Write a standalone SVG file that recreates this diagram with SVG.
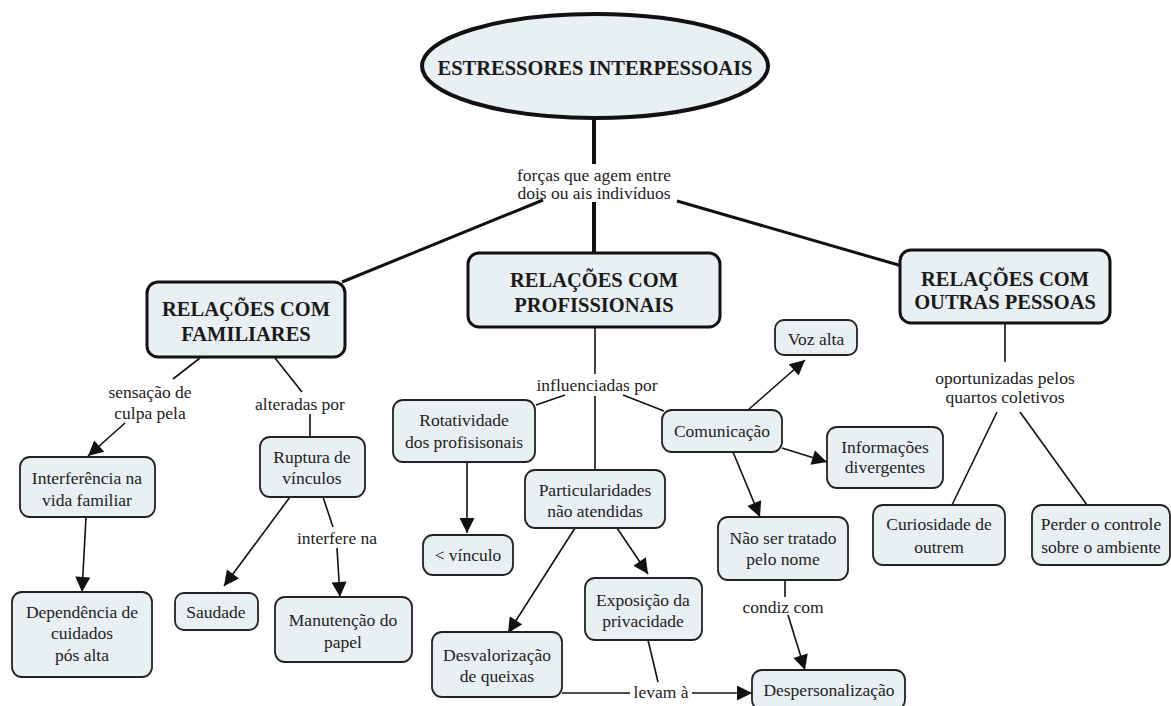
<svg xmlns="http://www.w3.org/2000/svg" width="1171" height="706" viewBox="0 0 1171 706">
  <style>
    .node { fill: #e9f0f3; stroke: #222; stroke-width: 1.8; }
    .head { fill: #e9f0f3; stroke: #111; stroke-width: 3; }
    .t { font-family: "Liberation Serif", "Times New Roman", serif; font-size: 17.5px; fill: #222; text-anchor: middle; dominant-baseline: central; }
    .b { font-family: "Liberation Serif", "Times New Roman", serif; font-size: 20.5px; font-weight: bold; fill: #1a1a1a; text-anchor: middle; dominant-baseline: central; }
    .ln { fill: none; stroke: #111; stroke-width: 1.6; }
    .thick { fill: none; stroke: #111; stroke-width: 4; }
    .mid { fill: none; stroke: #111; stroke-width: 3; }
    .arr { marker-end: url(#ah); }
  </style>
  <defs>
    <marker id="ah" viewBox="0 0 10 10" refX="10" refY="5" markerWidth="16" markerHeight="15" markerUnits="userSpaceOnUse" orient="auto">
      <path d="M0,0 L10,5 L0,10 z" fill="#111"/>
    </marker>
  </defs>

  <rect width="1171" height="706" fill="#fff"/>

  <!-- connectors and link labels -->
  <g id="connectors">
    <!-- root links -->
    <line class="thick" x1="594" y1="118" x2="594" y2="164"/>
    <line class="thick" x1="594" y1="202" x2="594" y2="253"/>
    <line class="mid" x1="543" y1="200" x2="342" y2="282"/>
    <line class="mid" x1="677" y1="201" x2="902" y2="266"/>
    <text class="t" x="594" y="175">forças que agem entre</text>
    <text class="t" x="594" y="193">dois ou ais indivíduos</text>

    <!-- familiares -->
    <line class="ln" x1="200" y1="358" x2="173" y2="379"/>
    <text class="t" x="150" y="392">sensação de</text>
    <text class="t" x="150" y="413">culpa pela</text>
    <line class="ln arr" x1="125" y1="423" x2="88" y2="456"/>
    <line class="ln arr" x1="86" y1="517" x2="82" y2="592"/>

    <line class="ln" x1="275" y1="358" x2="302" y2="392"/>
    <text class="t" x="300" y="404">alteradas por</text>
    <line class="ln" x1="310" y1="414" x2="310" y2="437"/>
    <line class="ln arr" x1="290" y1="497" x2="224" y2="586"/>
    <line class="ln" x1="323" y1="497" x2="333" y2="527"/>
    <text class="t" x="337" y="538">interfere na</text>
    <line class="ln arr" x1="337" y1="548" x2="340" y2="597"/>

    <!-- profissionais -->
    <line class="ln" x1="595" y1="327" x2="595" y2="374"/>
    <text class="t" x="597" y="385">influenciadas por</text>
    <line class="ln" x1="595" y1="396" x2="595" y2="470"/>
    <line class="ln" x1="565" y1="395" x2="536" y2="405"/>
    <line class="ln" x1="623" y1="395" x2="664" y2="411"/>
    <line class="ln arr" x1="467" y1="462" x2="467" y2="533"/>
    <line class="ln arr" x1="617" y1="528" x2="648" y2="574"/>
    <line class="ln arr" x1="575" y1="528" x2="508" y2="633"/>
    <line class="ln" x1="562" y1="693" x2="630" y2="693"/>
    <line class="ln" x1="648" y1="640" x2="658" y2="682"/>
    <text class="t" x="661" y="692">levam à</text>
    <line class="ln arr" x1="692" y1="693" x2="752" y2="693"/>
    <line class="ln arr" x1="748" y1="410" x2="805" y2="360"/>
    <line class="ln arr" x1="782" y1="448" x2="827" y2="462"/>
    <line class="ln arr" x1="733" y1="452" x2="760" y2="517"/>
    <line class="ln" x1="785" y1="580" x2="785" y2="597"/>
    <text class="t" x="783" y="607">condiz com</text>
    <line class="ln arr" x1="788" y1="615" x2="805" y2="670"/>

    <!-- outras pessoas -->
    <line class="ln" x1="1005" y1="323" x2="1005" y2="362"/>
    <text class="t" x="1005" y="378">oportunizadas pelos</text>
    <text class="t" x="1005" y="397">quartos coletivos</text>
    <line class="ln" x1="997" y1="412" x2="952" y2="505"/>
    <line class="ln" x1="1020" y1="412" x2="1087" y2="505"/>
  </g>

  <!-- root -->
  <g id="n-root">
    <ellipse cx="595" cy="66" rx="173" ry="52" fill="#e9f0f3" stroke="#111" stroke-width="4"/>
    <text class="b" x="595" y="68">ESTRESSORES INTERPESSOAIS</text>
  </g>

  <!-- top-level groups -->
  <g id="n-familiares">
    <rect class="head" x="147" y="282" width="198" height="75" rx="11"/>
    <text class="b" x="246" y="309">RELAÇÕES COM</text>
    <text class="b" x="246" y="334">FAMILIARES</text>
  </g>
  <g id="n-profissionais">
    <rect class="head" x="468" y="253" width="252" height="74" rx="11"/>
    <text class="b" x="594" y="280">RELAÇÕES COM</text>
    <text class="b" x="594" y="305">PROFISSIONAIS</text>
  </g>
  <g id="n-outras">
    <rect class="head" x="900" y="250" width="210" height="73" rx="11"/>
    <text class="b" x="1005" y="279">RELAÇÕES COM</text>
    <text class="b" x="1005" y="302">OUTRAS PESSOAS</text>
  </g>

  <!-- familiares branch -->
  <g id="n-interferencia">
    <rect class="node" x="20" y="457" width="135" height="60" rx="10"/>
    <text class="t" x="87" y="478">Interferência na</text>
    <text class="t" x="87" y="500">vida familiar</text>
  </g>
  <g id="n-dependencia">
    <rect class="node" x="12" y="592" width="140" height="85" rx="10"/>
    <text class="t" x="82" y="612">Dependência de</text>
    <text class="t" x="82" y="633">cuidados</text>
    <text class="t" x="82" y="655">pós alta</text>
  </g>
  <g id="n-ruptura">
    <rect class="node" x="260" y="437" width="105" height="60" rx="10"/>
    <text class="t" x="312" y="457">Ruptura de</text>
    <text class="t" x="312" y="478">vínculos</text>
  </g>
  <g id="n-saudade">
    <rect class="node" x="175" y="593" width="83" height="37" rx="9"/>
    <text class="t" x="216" y="612">Saudade</text>
  </g>
  <g id="n-manutencao">
    <rect class="node" x="275" y="597" width="137" height="65" rx="10"/>
    <text class="t" x="343" y="620">Manutenção do</text>
    <text class="t" x="343" y="642">papel</text>
  </g>

  <!-- profissionais branch -->
  <g id="n-rotatividade">
    <rect class="node" x="393" y="400" width="142" height="62" rx="10"/>
    <text class="t" x="464" y="420">Rotatividade</text>
    <text class="t" x="464" y="442">dos profisisonais</text>
  </g>
  <g id="n-vinculo">
    <rect class="node" x="423" y="535" width="90" height="40" rx="10"/>
    <text class="t" x="468" y="555">&lt; vínculo</text>
  </g>
  <g id="n-particularidades">
    <rect class="node" x="525" y="470" width="140" height="58" rx="10"/>
    <text class="t" x="595" y="490">Particularidades</text>
    <text class="t" x="595" y="511">não atendidas</text>
  </g>
  <g id="n-exposicao">
    <rect class="node" x="585" y="578" width="117" height="62" rx="10"/>
    <text class="t" x="643" y="600">Exposição da</text>
    <text class="t" x="643" y="621">privacidade</text>
  </g>
  <g id="n-desvalorizacao">
    <rect class="node" x="432" y="632" width="130" height="65" rx="10"/>
    <text class="t" x="497" y="655">Desvalorização</text>
    <text class="t" x="497" y="676">de queixas</text>
  </g>
  <g id="n-despersonalizacao">
    <rect class="node" x="752" y="670" width="153" height="40" rx="10"/>
    <text class="t" x="829" y="690">Despersonalização</text>
  </g>
  <g id="n-comunicacao">
    <rect class="node" x="662" y="410" width="120" height="42" rx="10"/>
    <text class="t" x="722" y="431">Comunicação</text>
  </g>
  <g id="n-voz">
    <rect class="node" x="775" y="320" width="82" height="35" rx="9"/>
    <text class="t" x="816" y="339">Voz alta</text>
  </g>
  <g id="n-informacoes">
    <rect class="node" x="827" y="427" width="116" height="61" rx="10"/>
    <text class="t" x="885" y="447">Informações</text>
    <text class="t" x="885" y="467">divergentes</text>
  </g>
  <g id="n-nome">
    <rect class="node" x="718" y="517" width="130" height="63" rx="10"/>
    <text class="t" x="783" y="538">Não ser tratado</text>
    <text class="t" x="783" y="559">pelo nome</text>
  </g>

  <!-- outras pessoas branch -->
  <g id="n-curiosidade">
    <rect class="node" x="873" y="505" width="132" height="60" rx="10"/>
    <text class="t" x="939" y="524">Curiosidade de</text>
    <text class="t" x="939" y="547">outrem</text>
  </g>
  <g id="n-perder">
    <rect class="node" x="1032" y="505" width="138" height="60" rx="10"/>
    <text class="t" x="1101" y="524">Perder o controle</text>
    <text class="t" x="1101" y="547">sobre o ambiente</text>
  </g>
</svg>
